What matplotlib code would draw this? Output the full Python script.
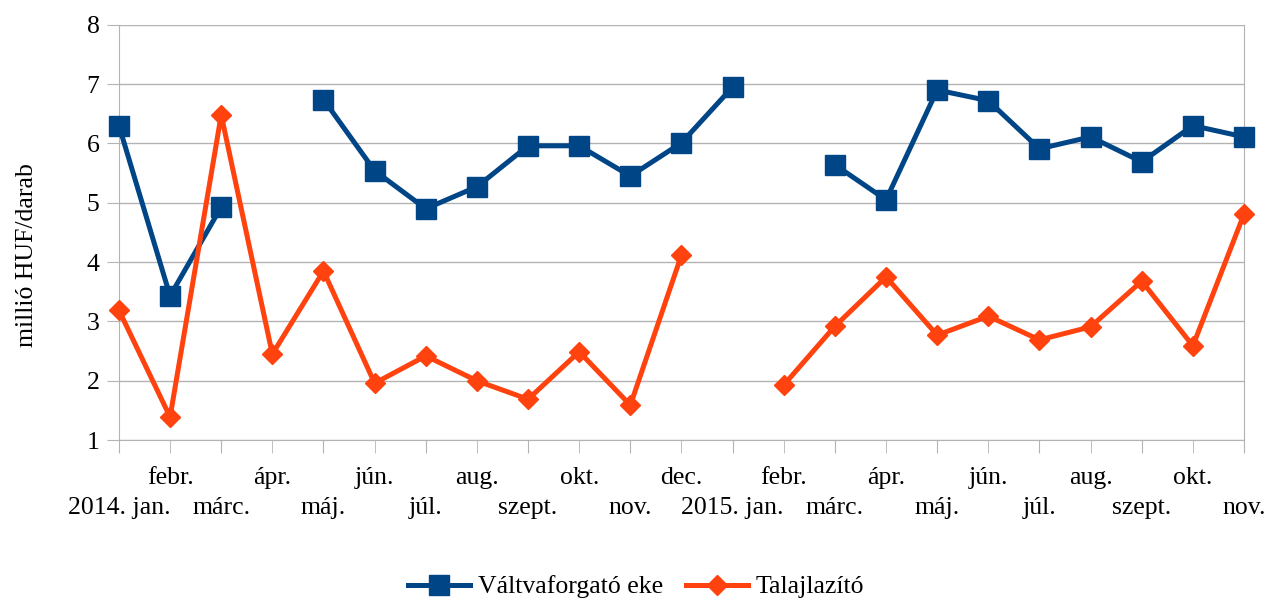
import numpy as np
import matplotlib.pyplot as plt

plt.rcParams['font.family'] = ['Liberation Serif', 'DejaVu Serif']

months = ["2014. jan.", "febr.", "márc.", "ápr.", "máj.", "jún.", "júl.", "aug.",
          "szept.", "okt.", "nov.", "dec.", "2015. jan.", "febr.", "márc.", "ápr.",
          "máj.", "jún.", "júl.", "aug.", "szept.", "okt.", "nov."]

valtvaforgato = [6.3, 3.43, 4.93, np.nan, 6.74, 5.54, 4.9, 5.27, 5.96, 5.96, 5.45, 6.01,
                 6.95, np.nan, 5.64, 5.05, 6.9, 6.72, 5.91, 6.11, 5.69, 6.3, 6.11]
talajlazito = [3.19, 1.39, 6.48, 2.45, 3.85, 1.96, 2.42, 2.0, 1.69, 2.49, 1.59, 4.12,
               np.nan, 1.93, 2.92, 3.75, 2.77, 3.09, 2.69, 2.91, 3.68, 2.59, 4.81]

blue = '#004586'
orange = '#ff420e'
grid_c = '#b3b3b3'
fs = 18.5

fig, ax = plt.subplots(figsize=(12.72, 6.03), dpi=100)
fig.subplots_adjust(left=0.0935, right=0.978, top=0.959, bottom=0.27)

x = np.arange(len(months))
ax.plot(x, valtvaforgato, color=blue, lw=3.6, marker='s', ms=14,
        label='Váltvaforgató eke', zorder=3, clip_on=False)
ax.plot(x, talajlazito, color=orange, lw=3.6, marker='D', ms=10,
        label='Talajlazító', zorder=3, clip_on=False)

ax.set_xlim(0, len(months) - 1)
ax.set_ylim(1, 8)
ax.set_yticks(range(1, 9))
ax.yaxis.grid(True, color=grid_c, lw=1)
ax.set_axisbelow(True)

for s in ['left', 'right', 'bottom']:
    ax.spines[s].set_color(grid_c)
ax.spines['top'].set_visible(False)

# two-row category labels: even months on the lower row, odd ones on the upper row
ax.set_xticks(x[::2])
ax.set_xticklabels(months[::2], fontsize=fs)
ax.set_xticks(x[1::2], minor=True)
ax.set_xticklabels(months[1::2], minor=True, fontsize=fs)
ax.tick_params(axis='x', which='major', length=9, color=grid_c, pad=32)
ax.tick_params(axis='x', which='minor', length=9, color=grid_c, pad=10)
ax.tick_params(axis='y', length=9, color=grid_c, labelsize=fs, pad=5)

fig.text(27 / 1272, 1 - 255 / 603, 'millió HUF/darab', rotation=90, fontsize=fs,
         ha='center', va='center')

handles, labels = ax.get_legend_handles_labels()
fig.legend(handles, labels, loc='center', bbox_to_anchor=(0.5, 1 - 587 / 603), ncol=2,
           frameon=False, fontsize=fs, handlelength=2.4, columnspacing=0.9,
           handletextpad=0.3)

fig.savefig('out.png', dpi=100)
